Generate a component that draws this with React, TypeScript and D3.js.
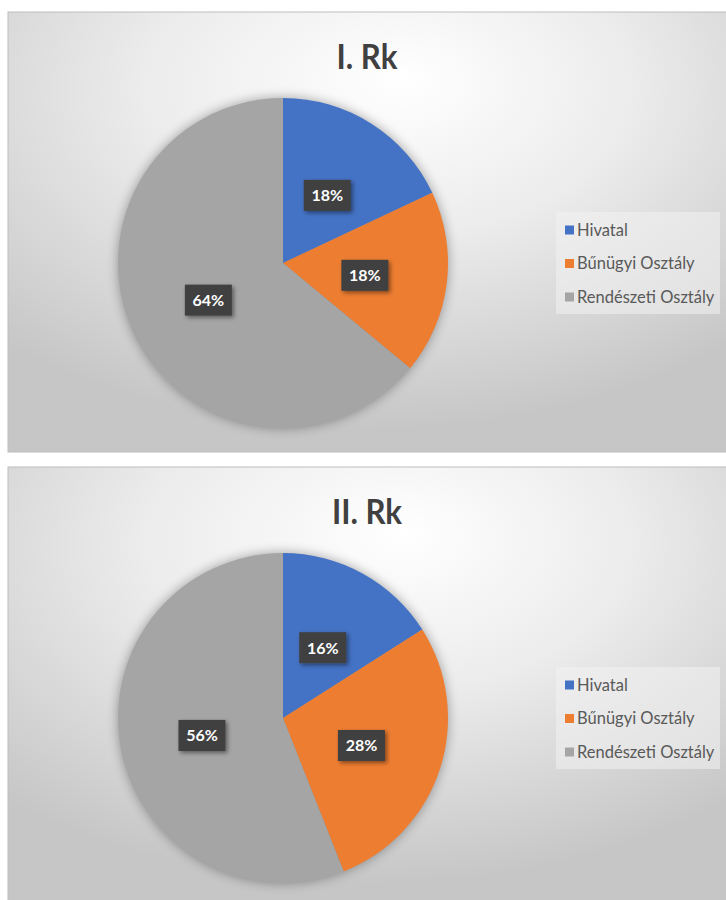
import React from "react";
import * as d3 from "d3";

const categories = ["Hivatal", "Bűnügyi Osztály", "Rendészeti Osztály"];
const colors = ["#4472c4", "#ed7d31", "#a5a5a5"];
const titles = ["I. Rk", "II. Rk"];
const valuesI = [18, 18, 64];
const valuesII = [16, 28, 56];
const seriesList = [valuesI, valuesII];

const W = 726;
const H = 900;
const FONT = "Lato, 'Open Sans', sans-serif";

function Panel({ idx, values, title, y0, h }: { idx: number; values: number[]; title: string; y0: number; h: number }) {
  const x0 = 8;
  const w = W - x0 + 2;
  const cx = 283;
  const cy = y0 + 251;
  const R = 165;
  const pie = d3.pie<number>().sort(null).value((d) => d);
  const arcs = pie(values);
  const arc = d3.arc<d3.PieArcDatum<number>>().innerRadius(0).outerRadius(R);
  const total = d3.sum(values);
  const legX = 556;
  const legY = y0 + 200;
  const legStep = 33.5;
  const tcx = x0 + (W - x0) / 2;
  return (
    <g>
      <rect x={x0} y={y0} width={w} height={h} fill={`url(#bg${idx})`} stroke="#bdbdbd" strokeWidth={1} />
      <text x={tcx} y={y0 + 57} textAnchor="middle" fontFamily={FONT} fontWeight={700} fontSize={34} fill="#404040" transform={`translate(${tcx},0) scale(0.92,1) translate(${-tcx},0)`}>
        {title}
      </text>
      <g transform={`translate(${cx},${cy})`}>
        <circle r={R} fill="#000" opacity={0.35} filter="url(#pieShadow)" />
        {arcs.map((a, i) => (
          <path key={i} d={arc(a) || ""} fill={colors[i]} />
        ))}
        {arcs.map((a, i) => {
          const [lx, ly] = arc.centroid(a);
          const pct = Math.round((a.data / total) * 100) + "%";
          return (
            <g key={"l" + i} transform={`translate(${lx},${ly + 2})`}>
              <rect x={-23.5} y={-15.5} width={47} height={31} fill="#404040" filter="url(#lblShadow)" />
              <text x={0} y={5.8} textAnchor="middle" fontFamily={FONT} fontWeight={700} fontSize={16} fill="#ffffff">
                {pct}
              </text>
            </g>
          );
        })}
      </g>
      <rect x={legX} y={legY} width={164} height={102} fill="#f2f2f2" opacity={0.55} />
      {categories.map((c, i) => (
        <g key={c} transform={`translate(${legX + 9},${legY + 18 + i * legStep})`}>
          <rect x={0} y={-4.5} width={9} height={9} fill={colors[i]} />
          <text x={12} y={5.5} fontFamily={FONT} fontSize={16.5} fill="#595959">
            {c}
          </text>
        </g>
      ))}
    </g>
  );
}

export default function App() {
  return (
    <svg width={W} height={H} style={{ position: "absolute", left: 0, top: 0, background: "#ffffff" }}>
      <defs>
        {[0, 1].map((i) => (
          <radialGradient key={i} id={`bg${i}`} cx="0.5" cy="0.2" r="0.75" fx="0.55" fy="0.15">
            <stop offset="0" stopColor="#ffffff" />
            <stop offset="0.45" stopColor="#ececec" />
            <stop offset="1" stopColor="#c6c6c6" />
          </radialGradient>
        ))}
        <filter id="pieShadow" x="-30%" y="-30%" width="160%" height="160%">
          <feGaussianBlur stdDeviation="6" />
        </filter>
        <filter id="lblShadow" x="-40%" y="-40%" width="180%" height="180%">
          <feDropShadow dx="2" dy="2" stdDeviation="2" floodColor="#000" floodOpacity="0.45" />
        </filter>
      </defs>
      <Panel idx={0} values={seriesList[0]} title={titles[0]} y0={12} h={440} />
      <Panel idx={1} values={seriesList[1]} title={titles[1]} y0={467} h={440} />
    </svg>
  );
}
